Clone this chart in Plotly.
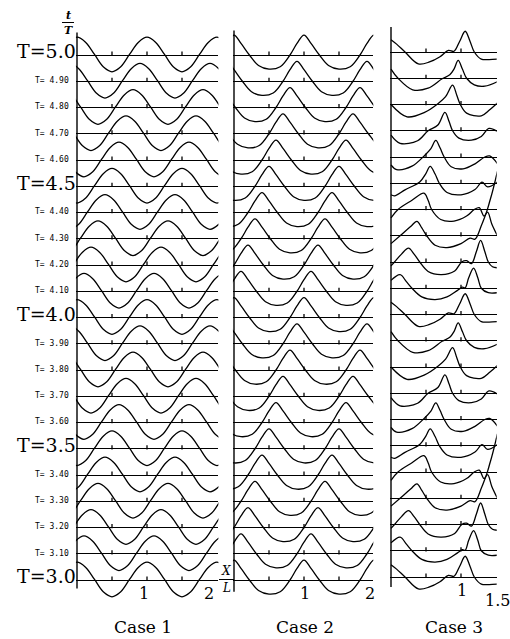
import plotly.graph_objects as go

W, H = 510, 639

# ---------------- data ----------------
T_LABELS = ["T=3.0", "T= 3.10", "T= 3.20", "T= 3.30", "T= 3.40", "T=3.5",
            "T= 3.60", "T= 3.70", "T= 3.80", "T= 3.90", "T=4.0",
            "T= 4.10", "T= 4.20", "T= 4.30", "T= 4.40", "T=4.5",
            "T= 4.60", "T= 4.70", "T= 4.80", "T= 4.90", "T=5.0"]
BIG_ROWS = [0, 5, 10, 15, 20]

# crest position (X/L) of each row, bottom (T=3.0) to top (T=5.0)
CASE1_CREST = [0.0, 0.1, 0.2, 0.3, 0.4, 0.5, 0.6, 0.7, 0.8, 0.9,
               0.0, 0.1, 0.2, 0.3, 0.4, 0.5, 0.6, 0.7, 0.8, 0.9, 0.0]
CASE2_CREST = [0.0, 0.1, 0.2, 0.3, 0.4, 0.5, 0.6, 0.7, 0.8, 0.9,
               0.0, 0.1, 0.2, 0.3, 0.4, 0.5, 0.6, 0.7, 0.8, 0.9, 0.0]
CASE3_PHASE = [0, 1, 2, 3, 4, 5, 6, 7, 8, 9,
               0, 1, 2, 3, 4, 5, 6, 7, 8, 9, 0]

# one wavelength of the profile, relative to a crest (elevation in row spacings)
C1_OFF = [0.0, 0.125, 0.25, 0.375, 0.5, 0.625, 0.75, 0.875]
C1_VAL = [0.68, 0.48, 0.02, -0.45, -0.64, -0.45, 0.02, 0.48]
C2_OFF = [-0.20, -0.10, 0.0, 0.10, 0.22, 0.35, 0.50, 0.66]
C2_VAL = [0.0, 0.44, 0.76, 0.44, 0.0, -0.40, -0.54, -0.45]

# case 3 profiles for each tenth of the period
C3_X = [
    [0.00, 0.08, 0.20, 0.39, 0.55, 0.70, 0.82, 0.90, 0.98, 1.06, 1.13, 1.19, 1.29, 1.40, 1.52],
    [0.00, 0.13, 0.22, 0.30, 0.44, 0.63, 0.80, 0.95, 1.02, 1.06, 1.11, 1.18, 1.24, 1.29, 1.39, 1.52],
    [0.00, 0.05, 0.15, 0.25, 0.33, 0.41, 0.53, 0.72, 0.91, 1.01, 1.08, 1.15, 1.22, 1.28, 1.34, 1.39, 1.45, 1.52],
    [0.00, 0.13, 0.28, 0.37, 0.44, 0.51, 0.63, 0.80, 1.00, 1.13, 1.20, 1.30, 1.38, 1.44, 1.52],
    [0.00, 0.10, 0.30, 0.47, 0.53, 0.58, 0.71, 0.90, 1.08, 1.19, 1.26, 1.33, 1.42, 1.52],
    [0.00, 0.05, 0.20, 0.41, 0.50, 0.56, 0.63, 0.69, 0.80, 1.00, 1.20, 1.30, 1.38, 1.52],
    [0.00, 0.08, 0.30, 0.48, 0.57, 0.64, 0.70, 0.76, 0.86, 1.03, 1.20, 1.34, 1.41, 1.52],
    [0.00, 0.13, 0.38, 0.53, 0.67, 0.77, 0.83, 0.88, 0.97, 1.15, 1.29, 1.40, 1.52],
    [0.00, 0.23, 0.48, 0.67, 0.78, 0.88, 0.94, 0.99, 1.08, 1.29, 1.41, 1.52],
    [0.00, 0.10, 0.31, 0.53, 0.73, 0.84, 0.90, 0.96, 1.02, 1.08, 1.19, 1.34, 1.52],
]
C3_Y = [
    [0.47, 0.30, 0.00, -0.45, -0.38, -0.18, 0.06, 0.03, 0.40, 0.79, 0.40, 0.00, -0.27, -0.29, -0.27],
    [0.30, 0.52, 0.25, 0.00, -0.33, -0.43, -0.33, -0.08, 0.04, 0.02, 0.40, 0.77, 0.40, 0.00, -0.17, -0.17],
    [-0.15, 0.00, 0.30, 0.53, 0.30, 0.00, -0.36, -0.48, -0.34, 0.00, 0.05, -0.06, 0.40, 0.82, 0.40, 0.00, -0.18, -0.22],
    [-0.30, 0.00, 0.35, 0.55, 0.30, 0.00, -0.36, -0.45, -0.30, -0.09, -0.13, 0.45, 0.90, 0.45, 0.00],
    [-0.32, 0.00, 0.35, 0.62, 0.35, 0.00, -0.38, -0.44, -0.25, 0.00, 0.07, -0.25, 0.40, 1.45],
    [-0.44, -0.48, -0.25, 0.05, 0.38, 0.64, 0.35, 0.00, -0.35, -0.44, -0.24, 0.04, -0.14, 0.05],
    [-0.30, -0.48, -0.35, 0.06, 0.32, 0.63, 0.35, 0.00, -0.37, -0.45, -0.26, 0.00, 0.04, -0.25],
    [-0.17, -0.48, -0.38, 0.00, 0.22, 0.70, 0.35, 0.00, -0.28, -0.36, -0.22, 0.09, -0.03],
    [0.00, -0.47, -0.30, 0.03, 0.30, 0.74, 0.35, 0.00, -0.33, -0.43, -0.20, 0.06],
    [0.35, 0.00, -0.44, -0.38, -0.02, 0.13, 0.35, 0.68, 0.35, 0.00, -0.25, -0.30, -0.13],
]

BASE_TICKS = [[0.5, 1.0, 1.5], [0.5, 1.0, 1.5], [0.5, 1.0]]
CASE_NAMES = ["Case 1", "Case 2", "Case 3"]

# ---------------- layout geometry (pixels) ----------------
UNIT = 70.0          # px per X/L
SPACING = 26.25      # px between rows
X0_PX = [77, 234, 391]
X_RANGES = [(-0.015, 2.02), (-0.015, 1.99), (-0.015, 1.51)]
BASE0_PX = [580, 580, 577]          # baseline of T=3.0 row
AXIS_SPAN = [(-0.32, 20.86), (-0.45, 20.93), (-0.38, 20.95)]


def periodic_points(crest, offs, vals, lo, hi):
    pts = []
    for n in range(-2, 4):
        for o, v in zip(offs, vals):
            x = crest + n + o
            if lo - 0.35 <= x <= hi + 0.35:
                pts.append((x, v))
    pts.sort()
    return [p[0] for p in pts], [p[1] for p in pts]


fig = go.Figure()
line_style = dict(color="black", width=1.3, shape="spline", smoothing=1.0)

for k in range(21):
    xs, vs = periodic_points(CASE1_CREST[k], C1_OFF, C1_VAL, *X_RANGES[0])
    fig.add_trace(go.Scatter(x=xs, y=[k + v for v in vs], mode="lines",
                             line=line_style, xaxis="x", yaxis="y", hoverinfo="skip"))
    xs, vs = periodic_points(CASE2_CREST[k], C2_OFF, C2_VAL, *X_RANGES[1])
    fig.add_trace(go.Scatter(x=xs, y=[k + v for v in vs], mode="lines",
                             line=line_style, xaxis="x2", yaxis="y2", hoverinfo="skip"))
    p = CASE3_PHASE[k]
    fig.add_trace(go.Scatter(x=C3_X[p], y=[k + v for v in C3_Y[p]], mode="lines",
                             line=line_style, xaxis="x3", yaxis="y3", hoverinfo="skip"))

# little tick marks on each baseline
for i, ax in enumerate(["", "2", "3"]):
    tx, ty = [], []
    for k in range(21):
        for t in BASE_TICKS[i]:
            tx.append(t)
            ty.append(k + 0.05)
    fig.add_trace(go.Scatter(x=tx, y=ty, mode="markers",
                             marker=dict(symbol="line-ns", size=3,
                                         line=dict(color="black", width=1.3)),
                             xaxis="x" + ax, yaxis="y" + ax, hoverinfo="skip"))

layout = dict(width=W, height=H, margin=dict(l=0, r=0, t=0, b=0),
              paper_bgcolor="white", plot_bgcolor="white", showlegend=False)

for i, ax in enumerate(["", "2", "3"]):
    lo, hi = X_RANGES[i]
    d0 = (X0_PX[i] + UNIT * lo) / W
    d1 = (X0_PX[i] + UNIT * hi) / W
    layout["xaxis" + ax] = dict(domain=[d0, d1], range=[lo, hi], showgrid=False,
                                zeroline=False, showticklabels=False, showline=False,
                                ticks="", anchor="y" + ax)
    top = BASE0_PX[i] / SPACING
    bot = (BASE0_PX[i] - H) / SPACING
    layout["yaxis" + ax] = dict(domain=[0, 1], range=[bot, top], showgrid=True,
                                gridcolor="black", gridwidth=1, zeroline=False,
                                showticklabels=False, showline=False,
                                tickvals=list(range(21)), ticks="inside", ticklen=3,
                                tickcolor="black", tickwidth=1, anchor="x" + ax)
fig.update_layout(**layout)

shapes = []
for i, ax in enumerate(["", "2", "3"]):
    shapes.append(dict(type="line", xref="x" + ax, yref="y" + ax, x0=0, x1=0,
                       y0=AXIS_SPAN[i][0], y1=AXIS_SPAN[i][1],
                       line=dict(color="black", width=1.4)))
# fraction bars of t/T and X/L
shapes.append(dict(type="line", xref="paper", yref="paper", x0=62 / W, x1=74 / W,
                   y0=1 - 22.5 / H, y1=1 - 22.5 / H, line=dict(color="black", width=1)))
shapes.append(dict(type="line", xref="paper", yref="paper", x0=219 / W, x1=234 / W,
                   y0=1 - 579.5 / H, y1=1 - 579.5 / H, line=dict(color="black", width=1)))
fig.update_layout(shapes=shapes)

ann = []
for k in range(21):
    if k in BIG_ROWS:
        ann.append(dict(x=77.5 / W, xref="paper", y=k + 0.14, yref="y", text=T_LABELS[k],
                        showarrow=False, xanchor="right", yanchor="middle",
                        font=dict(family="DejaVu Serif", size=19, color="black")))
    else:
        ann.append(dict(x=71 / W, xref="paper", y=k + 0.02, yref="y", text=T_LABELS[k],
                        showarrow=False, xanchor="right", yanchor="middle",
                        font=dict(family="DejaVu Sans Mono", size=8, color="black")))


def paper_text(txt, xpx, ypx, size, family="DejaVu Serif"):
    return dict(x=xpx / W, y=1 - ypx / H, xref="paper", yref="paper", text=txt,
                showarrow=False, xanchor="center", yanchor="middle",
                font=dict(family=family, size=size, color="black"))


ann.append(paper_text("<i><b>t</b></i>", 68, 15, 11))
ann.append(paper_text("<i><b>T</b></i>", 68, 30, 11))
ann.append(paper_text("<i>X</i>", 226, 571, 12))
ann.append(paper_text("<i>L</i>", 226, 588, 12))
ann.append(paper_text("1", 144, 593, 16))
ann.append(paper_text("2", 209, 593, 16))
ann.append(paper_text("1", 305, 593, 16))
ann.append(paper_text("2", 370, 593, 16))
ann.append(paper_text("1", 462, 590, 16))
ann.append(paper_text("1.5", 497, 600, 16))
for name, xc in zip(CASE_NAMES, [143, 305, 454]):
    ann.append(paper_text(name, xc, 627, 17))
fig.update_layout(annotations=ann)

fig.write_html("out.html", config={"displayModeBar": False},
               post_script="document.body.style.margin='0';document.body.style.overflow='hidden';")
